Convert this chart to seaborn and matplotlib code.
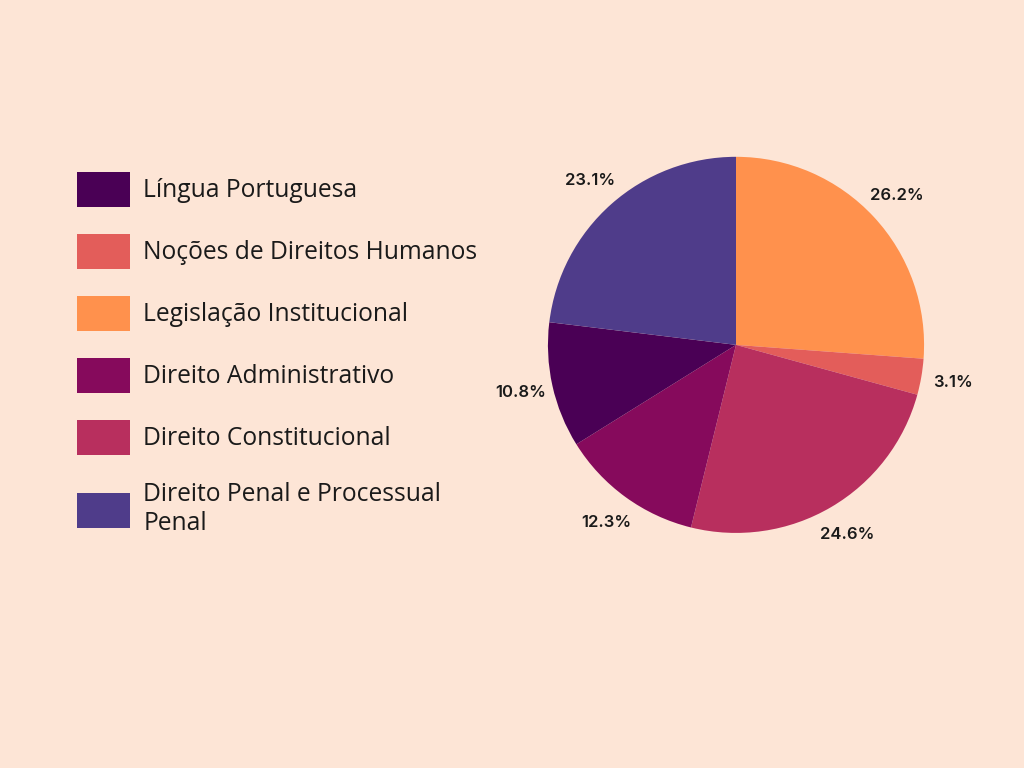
import matplotlib
matplotlib.use("Agg")
import matplotlib.pyplot as plt
import seaborn as sns

# data (legend order)
categories = ["Língua Portuguesa", "Noções de Direitos Humanos", "Legislação Institucional",
              "Direito Administrativo", "Direito Constitucional",
              "Direito Penal e Processual\nPenal"]
shares = [10.8, 3.1, 26.2, 12.3, 24.6, 23.1]
colors = ["#4a0055", "#e35d5a", "#ff914d", "#860a5c", "#b82f5e", "#4f3c8a"]

# order the slices run clockwise from 12 o'clock
pie_order = [2, 1, 4, 3, 0, 5]

bg = "#fde5d6"
sns.set_theme(style="white")
plt.rcParams["font.family"] = ["Open Sans", "DejaVu Sans"]

fig = plt.figure(figsize=(10.24, 7.68), dpi=100, facecolor=bg)
ax = fig.add_axes([0.48, 0.2326, 0.4775, 0.6367])
ax.set_facecolor(bg)

vals = [shares[i] for i in pie_order]
cols = [colors[i] for i in pie_order]
wedges, _, autotexts = ax.pie(vals, colors=cols, startangle=90, counterclock=False,
                              autopct="%.1f%%", pctdistance=1.17,
                              wedgeprops=dict(linewidth=0),
                              textprops=dict(fontsize=12, fontweight="semibold",
                                             color="#1a1a1a", family=["Inter", "DejaVu Sans"]))
ax.set_xlim(-1.3, 1.3)
ax.set_ylim(-1.3, 1.3)
ax.set_aspect("equal")
ax.axis("off")

# legend in category order
handles = [wedges[pie_order.index(i)] for i in range(len(categories))]
fig.legend(handles, categories, loc="upper left", bbox_to_anchor=(77 / 1024, 1 - 172 / 768),
           frameon=False, fontsize=17.7, handlelength=2.15, handleheight=1.81,
           handletextpad=0.55, labelspacing=1.1, borderpad=0, borderaxespad=0,
           labelcolor="#1a1a1a")

fig.savefig("out.png", dpi=100, facecolor=bg)
